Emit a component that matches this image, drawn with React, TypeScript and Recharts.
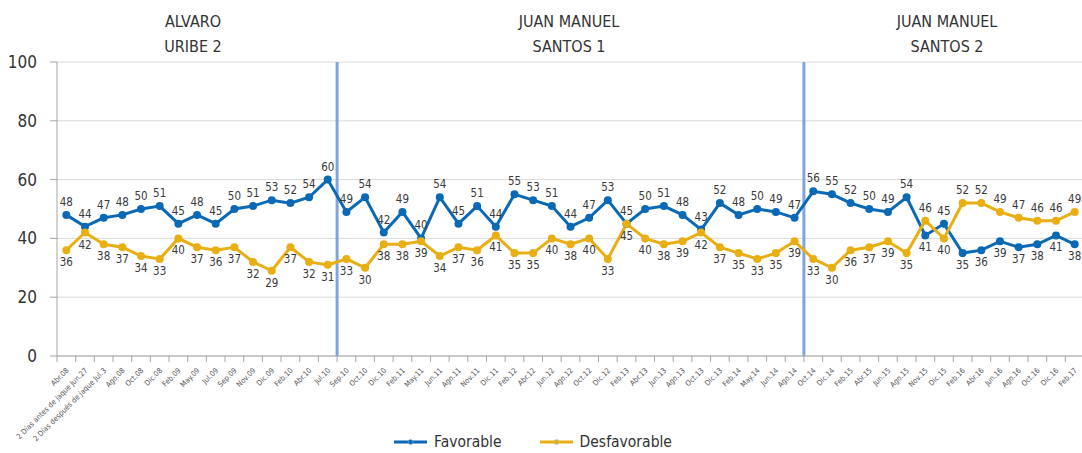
import React from "react";
import { LineChart, Line, XAxis, YAxis, CartesianGrid, ReferenceLine } from "recharts";

const months = [
  "Abr.08", "2 Días antes de jaque Jun.27", "2 Días después de jaque Jul.3", "Ago.08", "Oct.08", "Dic.08",
  "Feb.09", "May.09", "Jul.09", "Sep.09", "Nov.09", "Dic.09", "Feb.10", "Abr.10", "Jul.10",
  "Sep.10", "Oct.10", "Dic.10", "Feb.11", "May.11", "Jun.11", "Ago.11", "Nov.11", "Dic.11",
  "Feb.12", "Abr.12", "Jun.12", "Ago.12", "Oct.12", "Dic.12", "Feb.13", "Abr.13", "Jun.13",
  "Ago.13", "Oct.13", "Dic.13", "Feb.14", "May.14", "Jun.14", "Ago.14",
  "Oct.14", "Dic.14", "Feb.15", "Abr.15", "Jun.15", "Ago.15", "Nov.15", "Dic.15", "Feb.16",
  "Abr.16", "Jun.16", "Ago.16", "Oct.16", "Dic.16", "Feb.17",
];

const favorable = [
  48, 44, 47, 48, 50, 51, 45, 48, 45, 50, 51, 53, 52, 54, 60,
  49, 54, 42, 49, 40, 54, 45, 51, 44, 55, 53, 51, 44, 47, 53, 45, 50, 51, 48, 43, 52, 48, 50, 49, 47,
  56, 55, 52, 50, 49, 54, 41, 45, 35, 36, 39, 37, 38, 41, 38,
];

const desfavorable = [
  36, 42, 38, 37, 34, 33, 40, 37, 36, 37, 32, 29, 37, 32, 31,
  33, 30, 38, 38, 39, 34, 37, 36, 41, 35, 35, 40, 38, 40, 33, 45, 40, 38, 39, 42, 37, 35, 33, 35, 39,
  33, 30, 36, 37, 39, 35, 46, 40, 52, 52, 49, 47, 46, 46, 49,
];

const periods = [
  { name: ["ALVARO", "URIBE 2"], center: 193 },
  { name: ["JUAN MANUEL", "SANTOS 1"], center: 569 },
  { name: ["JUAN MANUEL", "SANTOS 2"], center: 947 },
];
// divisores entre periodos presidenciales
const dividers = [
  { at: "Sep.10", pos: "start" },
  { at: "Ago.14", pos: "end" },
];

const BLUE = "#0a69b4";
const GOLD = "#e8ae12";
const FONT = "'DejaVu Sans Condensed', 'Liberation Sans Narrow', sans-serif";

const data = months.map((m, i) => ({ m, fav: favorable[i], des: desfavorable[i] }));

function XTick(props: any) {
  const { x, y, payload } = props;
  const off = payload.offset || 0;
  const tx = x + 3;
  const ty = y + 7;
  return (
    <g>
      <line x1={x - off} x2={x - off} y1={y - 8} y2={y - 2} stroke="#a6a6a6" strokeWidth={1} />
      <text x={tx} y={ty} transform={`rotate(-45 ${tx} ${ty})`} textAnchor="end"
        fontSize={7.5} fill="#555" fontFamily={FONT}>{payload.value}</text>
    </g>
  );
}

function makeDot(key: "fav" | "des", color: string) {
  return (p: any) => {
    const { cx, cy, payload, index } = p;
    const other = key === "fav" ? payload.des : payload.fav;
    const v = payload[key];
    const above = key === "fav" ? v >= other : v > other;
    return (
      <g key={`${key}-${index}`}>
        <circle cx={cx} cy={cy} r={4} fill={color} />
        <text x={cx} y={above ? cy - 9 : cy + 16} textAnchor="middle" fontSize={11.5}
          fill="#3a3a3a" fontFamily={FONT}>{v}</text>
      </g>
    );
  };
}

export default function App() {
  return (
    <div style={{ position: "fixed", left: 0, top: 0, width: 1082, height: 453, overflow: "hidden", background: "#fff", fontFamily: FONT }}>
      {periods.map((p) => (
        <div key={p.center} style={{ position: "absolute", top: 9, left: p.center - 100, width: 200, textAlign: "center",
          fontSize: 16, lineHeight: "25px", color: "#333" }}>
          {p.name[0]}<br />{p.name[1]}
        </div>
      ))}
      <LineChart width={1086} height={453} data={data} margin={{ top: 62, right: 2, left: 0, bottom: 0 }}>
        <CartesianGrid vertical={false} stroke="#d9d9d9" />
        <XAxis dataKey="m" scale="band" interval={0} height={97} tick={<XTick />} tickLine={false}
          tickSize={6} tickMargin={2} axisLine={{ stroke: "#a6a6a6" }} />
        <YAxis domain={[0, 100]} ticks={[0, 20, 40, 60, 80, 100]} width={57} tickSize={7} tickMargin={13}
          axisLine={{ stroke: "#a6a6a6" }} tickLine={{ stroke: "#a6a6a6" }}
          tick={{ fontSize: 17, fill: "#333", fontFamily: FONT }} />
        {dividers.map((d) => (
          <ReferenceLine key={d.at} x={d.at} position={d.pos as any} stroke="#7ea5dc" strokeWidth={3} />
        ))}
        <Line dataKey="fav" stroke={BLUE} strokeWidth={3} dot={makeDot("fav", BLUE)} isAnimationActive={false} />
        <Line dataKey="des" stroke={GOLD} strokeWidth={3} dot={makeDot("des", GOLD)} isAnimationActive={false} />
      </LineChart>
      <div style={{ position: "absolute", top: 431, left: 0, width: 1082, display: "flex", justifyContent: "center",
        fontSize: 15.5, color: "#333", marginLeft: -8 }}>
        {[["Favorable", BLUE], ["Desfavorable", GOLD]].map(([n, c]) => (
          <div key={n} style={{ display: "flex", alignItems: "center", margin: "0 19px" }}>
            <svg width={33} height={22} style={{ marginRight: 7 }}>
              <line x1={0} x2={33} y1={11} y2={11} stroke={c} strokeWidth={3} />
              <circle cx={16.5} cy={11} r={2.5} fill={c} stroke="#9cc3ea" strokeWidth={0.5} />
            </svg>
            <span>{n}</span>
          </div>
        ))}
      </div>
    </div>
  );
}
